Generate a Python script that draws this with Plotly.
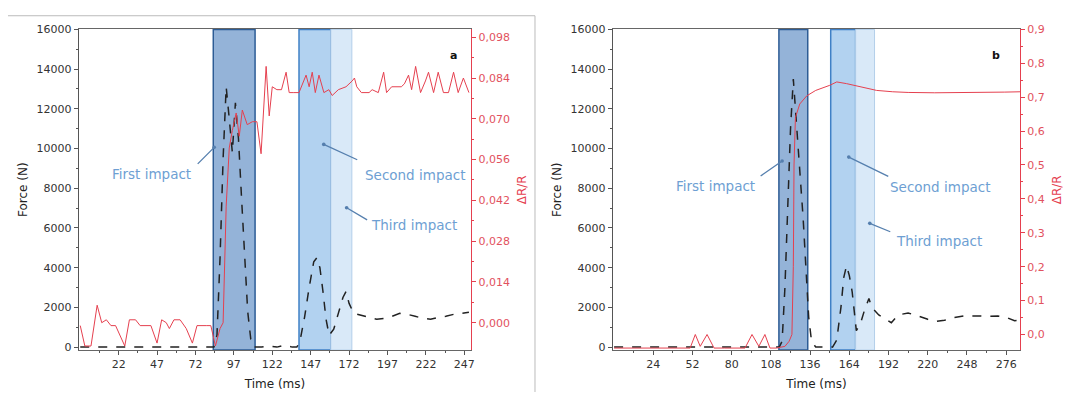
import plotly.graph_objects as go

# ---------------- data ----------------
# Panel a: force (N)
t_force_a = [-3, 2, 7, 12, 17, 22, 27, 32, 37, 42,
             47, 52, 57, 62, 67, 72, 77, 82, 84, 86,
             88, 90, 92, 94, 96, 98, 100, 102, 104, 106,
             108, 110, 115, 120, 125, 130, 135, 138, 140, 143,
             146, 149, 151, 153, 155, 157, 159, 162, 165, 168,
             170, 172, 175, 180, 185, 190, 195, 200, 205, 210,
             215, 220, 225, 230, 235, 240, 245, 250]
force_a = [0, 0, 0, 0, 0, 0, 0, 0, 0, 0,
           0, 0, 0, 0, 0, 0, 0, 0, 0, 600,
           4500, 9500, 13100, 11500, 9800, 12300, 10500, 7500, 4500, 1800,
           400, 0, 0, 50, 0, 100, 0, 0, 300, 1500,
           3000, 4300, 4500, 4000, 2800, 1400, 600, 900, 1700, 2500,
           2800, 2200, 1700, 1600, 1500, 1400, 1450, 1550, 1700, 1650,
           1550, 1450, 1400, 1500, 1550, 1650, 1700, 1750]

# Panel a: dR/R
t_res_a = [-3, 0, 4, 8, 11, 14, 17, 20, 26, 29,
           33, 36, 43, 47, 50, 53, 55, 58, 62, 66,
           70, 73, 79, 82, 85, 88, 90, 92, 94, 96,
           98.5, 100.5, 102.5, 105.7, 109, 112, 114.7, 118, 120, 122,
           125, 128, 131, 133, 136, 139.4, 144, 146, 148, 150,
           152.4, 155.6, 158.8, 161, 165, 170, 174, 175.5, 177, 180,
           185, 187, 191, 194.5, 196.4, 199.7, 206, 208, 210.7, 212.7,
           215.3, 218.5, 221.7, 223.7, 227, 230, 233.4, 236.7, 240, 243,
           246.4, 248.3, 250]
res_a = [-0.001, -0.008, -0.008, 0.006, 0.000, 0.001, -0.001, -0.001, -0.008, 0.001,
         0.001, -0.001, -0.001, -0.007, 0.001, 0.000, -0.002, 0.001, 0.001, -0.002,
         -0.007, -0.001, -0.001, -0.001, -0.008, -0.002, 0.000, 0.040, 0.060, 0.066,
         0.072, 0.064, 0.073, 0.068, 0.069, 0.069, 0.058, 0.088, 0.071, 0.081,
         0.080, 0.080, 0.086, 0.079, 0.079, 0.079, 0.085, 0.081, 0.086, 0.079,
         0.085, 0.079, 0.080, 0.078, 0.080, 0.081, 0.083, 0.084, 0.081, 0.079,
         0.079, 0.080, 0.079, 0.086, 0.079, 0.081, 0.081, 0.082, 0.085, 0.080,
         0.088, 0.079, 0.083, 0.086, 0.079, 0.086, 0.079, 0.079, 0.086, 0.079,
         0.084, 0.081, 0.079]

# Panel b: force (N)
t_force_b = [-4, 4, 12, 20, 28, 36, 44, 52, 60, 68,
             76, 84, 92, 100, 108, 114, 116, 118, 120, 122,
             124, 125, 127, 129, 131, 133, 135, 137, 140, 145,
             148, 152, 155, 158, 160, 162, 164, 166, 168, 169,
             172, 175, 178, 180, 185, 190, 194, 199, 206, 213,
             220, 226, 232, 237, 246, 256, 263, 270, 276, 282,
             286]
force_b = [0, 0, 0, 0, 0, 0, 0, 0, 0, 0,
           0, 0, 0, 0, 0, 0, 300, 3000, 7000, 11000,
           13500, 12500, 11000, 9000, 6500, 4000, 1500, 300, 0, 0,
           50, 0, 350, 2000, 3500, 4100, 3600, 2800, 1400, 830,
           1200, 1900, 2450, 2000, 1620, 1400, 1230, 1620, 1720, 1570,
           1400, 1300, 1350, 1470, 1570, 1570, 1550, 1570, 1500, 1330,
           1350]

# Panel b: dR/R
t_res_b = [-4, 10, 30, 48, 50.3, 54, 57.5, 62.4, 67.4, 75,
           85, 89.5, 94.5, 99.4, 103.7, 107.3, 112, 118, 121, 123,
           124, 124.5, 125.5, 128.6, 133.6, 140, 150, 155, 162, 169,
           176, 183.5, 195, 206, 225, 242, 260, 275, 286]
res_b = [-0.04, -0.04, -0.04, -0.04, -0.04, 0.0, -0.035, 0.0, -0.04, -0.04,
         -0.04, -0.04, 0.0, -0.035, 0.0, -0.04, -0.04, -0.035, -0.02, 0.0,
         0.2, 0.5, 0.64, 0.68, 0.704, 0.72, 0.735, 0.745, 0.74, 0.733,
         0.726, 0.72, 0.716, 0.714, 0.713, 0.713, 0.714, 0.715, 0.716]

# impact windows (ms)
impact_names = ["First impact", "Second impact", "Third impact"]
impact_a_start = [83.6, 139.4, 160.1]
impact_a_end = [110.8, 160.1, 173.8]
impact_b_start = [113.7, 150.7, 168.5]
impact_b_end = [134.3, 168.5, 182.0]

# tick labels
xticks_a = [22, 47, 72, 97, 122, 147, 172, 197, 222, 247]
xticks_b = [24, 52, 80, 108, 136, 164, 192, 220, 248, 276]
force_ticks = [0, 2000, 4000, 6000, 8000, 10000, 12000, 14000, 16000]
res_ticks_a = [0.000, 0.014, 0.028, 0.042, 0.056, 0.070, 0.084, 0.098]
res_ticks_b = [0.0, 0.1, 0.2, 0.3, 0.4, 0.5, 0.6, 0.7, 0.8, 0.9]

# ---------------- style ----------------
FONT = "DejaVu Sans"
RED = "#e5404f"
RED_T = "#e2525e"
DARK = "#333333"
fills = ["#94b3d8", "#b2d2f0", "#d9e9f8"]
edges = ["#2d5c95", "#3f80c6", "#b3cfea"]
ANN = "#6e9fd3"
ARW = "#557fae"

fig = go.Figure()
fig.add_trace(go.Scatter(x=t_res_a, y=res_a, xaxis="x", yaxis="y2", mode="lines",
                         line=dict(color=RED, width=1), showlegend=False))
fig.add_trace(go.Scatter(x=t_force_a, y=force_a, xaxis="x", yaxis="y", mode="lines",
                         line=dict(color="#222222", width=1.5, dash="dash"), showlegend=False))
fig.add_trace(go.Scatter(x=t_res_b, y=res_b, xaxis="x2", yaxis="y4", mode="lines",
                         line=dict(color=RED, width=1), showlegend=False))
fig.add_trace(go.Scatter(x=t_force_b, y=force_b, xaxis="x2", yaxis="y3", mode="lines",
                         line=dict(color="#222222", width=1.5, dash="dash"), showlegend=False))

shapes = []
for xr, yr, starts, ends in [("x", "y domain", impact_a_start, impact_a_end),
                             ("x2", "y3 domain", impact_b_start, impact_b_end)]:
    for i in range(3):
        shapes.append(dict(type="rect", xref=xr, yref=yr, x0=starts[i], x1=ends[i], y0=0, y1=1,
                           fillcolor=fills[i], line=dict(color=edges[i], width=1.5 if i < 2 else 1),
                           layer="below"))
# figure panel borders
shapes.append(dict(type="line", xref="paper", yref="paper", x0=8/1067, x1=537/1067,
                   y0=1-10/396, y1=1-10/396, line=dict(color="#bbbbbb", width=1)))
shapes.append(dict(type="line", xref="paper", yref="paper", x0=537/1067, x1=537/1067,
                   y0=0, y1=1-10/396, line=dict(color="#bbbbbb", width=1)))

tickfont = dict(family=FONT, size=11, color=DARK)
titlefont = dict(family=FONT, size=12, color="#222222")
ydom = [1-353/396, 1-24/396]


def xax(dom, rng, vals, anchor):
    step = vals[1] - vals[0]
    return dict(domain=dom, range=rng, anchor=anchor, tickvals=vals, ticktext=[str(v) for v in vals],
                ticks="outside", ticklen=4, tickcolor="#555", showline=True, linecolor="#666",
                linewidth=1, mirror=True, showgrid=False, zeroline=False, tickfont=tickfont,
                title=dict(text="Time (ms)", font=titlefont, standoff=9),
                minor=dict(tickvals=[v + step/2 for v in [vals[0]-step] + vals],
                           ticks="outside", ticklen=2, tickcolor="#555"))


def fax(anchor):
    return dict(domain=ydom, range=[-150, 16000], anchor=anchor, tickvals=force_ticks,
                ticktext=[str(v) for v in force_ticks],
                ticks="outside", ticklen=4, tickcolor="#555", showline=True, linecolor="#555",
                showgrid=False, zeroline=False, tickfont=tickfont,
                title=dict(text="Force (N)", font=titlefont, standoff=6),
                minor=dict(tickvals=[v + 1000 for v in force_ticks[:-1]], ticks="outside",
                           ticklen=2, tickcolor="#555"))


def rax(overlay, anchor, rng, vals, fmt):
    step = vals[1] - vals[0]
    return dict(overlaying=overlay, side="right", anchor=anchor, range=rng, tickvals=vals,
                ticktext=[fmt.format(v).replace(".", ",") for v in vals],
                ticks="outside", ticklen=4, tickcolor=RED, showline=True, linecolor=RED,
                showgrid=False, zeroline=False, tickfont=dict(family=FONT, size=11, color=RED_T),
                title=dict(text="ΔR/R", font=dict(family=FONT, size=12, color=RED), standoff=8),
                minor=dict(tickvals=[v + step/2 for v in vals[:-1]], ticks="outside", ticklen=2,
                           tickcolor=RED))


annotations = []
label_pos = [("x", "y", 43.3, 8735, "First impact"), ("x", "y", 215.2, 8686, "Second impact"),
             ("x", "y", 214.5, 6133, "Third impact"),
             ("x2", "y3", 68.3, 8096, "First impact"), ("x2", "y3", 228.4, 8047, "Second impact"),
             ("x2", "y3", 227.7, 5347, "Third impact")]
for xr, yr, x, y, txt in label_pos:
    annotations.append(dict(xref=xr, yref=yr, x=x, y=y, text=txt, showarrow=False,
                            font=dict(family=FONT, size=13.5, color=ANN)))
arrow_pos = [("x", "y", 84.2, 10060, -18, 18), ("x", "y", 155.5, 10207, 35, 16),
             ("x", "y", 170.4, 7017, 22, 13),
             ("x2", "y3", 116.0, 9373, -23, 16), ("x2", "y3", 163.6, 9569, 41, 20),
             ("x2", "y3", 178.6, 6231, 22, 9)]
for xr, yr, x, y, ax, ay in arrow_pos:
    annotations.append(dict(xref=xr, yref=yr, x=x, y=y, text="", showarrow=True, ax=ax, ay=ay,
                            arrowhead=6, arrowsize=0.7, arrowwidth=1.3, arrowcolor=ARW))
annotations.append(dict(xref="paper", yref="paper", x=455/1067, y=1-42/396, text="<b>a</b>",
                        showarrow=False, font=dict(family=FONT, size=11, color="#111")))
annotations.append(dict(xref="paper", yref="paper", x=1006/1067, y=1-42/396, text="<b>b</b>",
                        showarrow=False, font=dict(family=FONT, size=11, color="#111")))

fig.update_layout(
    width=1067, height=396, margin=dict(l=0, r=0, t=0, b=0),
    paper_bgcolor="white", plot_bgcolor="white", showlegend=False,
    font=dict(family=FONT),
    xaxis=xax([79/1067, 473/1067], [-4, 251.5], xticks_a, "y"),
    xaxis2=xax([615/1067, 1024/1067], [-5, 286], xticks_b, "y3"),
    yaxis=fax("x"),
    yaxis2=rax("y", "x", [-0.0094, 0.1007], res_ticks_a, "{:.3f}"),
    yaxis3=fax("x2"),
    yaxis4=rax("y3", "x2", [-0.046, 0.9], res_ticks_b, "{:.1f}"),
    shapes=shapes, annotations=annotations,
)

fig.write_html("out.html")
